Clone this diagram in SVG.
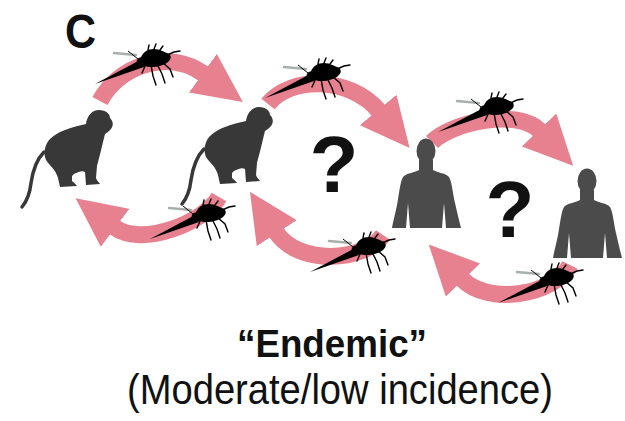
<svg xmlns="http://www.w3.org/2000/svg" width="625" height="421" viewBox="0 0 625 421">
  <style>
    .arrow { fill: none; stroke: #e8818f; stroke-width: 17; marker-end: url(#head); }
    .monkey { fill: #383838; }
    .tail { fill: none; stroke: #383838; stroke-width: 3.5; stroke-linecap: round; }
    .human { fill: #4b4b4b; }
    .label { font-family: "Liberation Sans", Arial, sans-serif; fill: #111; }
    .q { font-size: 80px; font-weight: bold; text-anchor: middle; }
  </style>
  <defs>
    <marker id="head" viewBox="0 -1.4 2.9 2.8" refX="0.08" refY="0" markerWidth="2.9" markerHeight="2.8" orient="auto" markerUnits="strokeWidth">
      <path d="M0,-1.4 L2.9,0 L0,1.4 Z" fill="#e8818f"/>
    </marker>

    <!-- mosquito in side view, thorax at the origin, proboscis to lower left -->
    <g id="mosquito">
      <path d="M-14,-3 L-36,-5" stroke="#a8b0ac" stroke-width="2.5" stroke-linecap="round"/>
      <path d="M-8,1 L-55,26 L-6,9 Z" fill="#000"/>
      <path d="M-12,1 L-22,-7" stroke="#000" stroke-width="1"/>
      <circle cx="-9" cy="4" r="4.5" fill="#000"/>
      <path d="M-10,2 C-8,-6 -2,-9 4,-9 C10,-9 14,-6 17,-5 C21,-4 22,0 19,3 C15,7 8,9 1,9 C-5,9 -10,7 -10,2 Z" fill="#000"/>
      <g fill="none" stroke="#000" stroke-width="1.4" stroke-linecap="round">
        <path d="M-2,-8 L-1,-13"/>
        <path d="M4,-9 L6,-14"/>
        <path d="M10,-8 L13,-12"/>
        <path d="M1,7 L3,18 L6,27"/>
        <path d="M7,6 L12,16 L15,25"/>
        <path d="M12,4 L20,11 L23,19"/>
        <path d="M15,-2 L24,-6 L30,-7"/>
        <path d="M-4,6 L-8,15"/>
      </g>
    </g>

    <!-- monkey silhouette facing right -->
    <g id="monkey-shape">
      <path class="tail" d="M44,152 C36,160 33,170 31,183 C30,192 27,201 22,207"/>
      <path class="monkey" d="M99,110 C106,110 110,114 110,118 C113,121 114,125 111,129 C109,131 107,133 105,134 C103,142 100,155 97,166 L96,178 C97,181 99,182 100,184 L86,185 L85,172 C82,170 78,172 74,174 L72,176 L72,181 C74,183 76,184 77,186 L60,187 L58,178 C56,170 50,166 46,160 C43,153 45,144 50,139 C58,131 72,127 86,124 C87,116 92,110 99,110 Z"/>
    </g>

    <!-- human bust silhouette -->
    <g id="human-shape">
      <ellipse class="human" cx="426" cy="151" rx="9.5" ry="12.5"/>
      <path class="human" d="M419,160 L419,170 C414,173 406,173 403,177 C400,182 399,195 397,205 C395,215 393,222 392,228 L406,228 L408,203 L410,228 L442,228 L444,203 L446,228 L461,228 C459,220 457,212 455,203 C453,195 452,182 449,177 C446,173 438,173 433,170 L433,160 Z"/>
    </g>
  </defs>

  <rect width="625" height="421" fill="#fff"/>

  <text class="label" x="65" y="48" font-size="48" font-weight="bold" textLength="31" lengthAdjust="spacingAndGlyphs">C</text>

  <!-- transmission arrows -->
  <g id="connectors">
    <path class="arrow" d="M100,101 C118,66 168,48 204,74"/>
    <path class="arrow" d="M219,197 C205,222 142,248 114,227"/>
    <path class="arrow" d="M268,104 C290,76 350,76 379,111"/>
    <path class="arrow" d="M383,235 C365,262 298,266 276,232"/>
    <path class="arrow" d="M432,142 C452,122 518,108 540,131"/>
    <path class="arrow" d="M570,265 C555,295 488,306 462,279"/>
  </g>

  <!-- mosquito vectors riding on the arrows -->
  <g id="vectors">
    <use href="#mosquito" x="150" y="58"/>
    <use href="#mosquito" x="205" y="213"/>
    <use href="#mosquito" x="320" y="72"/>
    <use href="#mosquito" x="365" y="246"/>
    <use href="#mosquito" x="493" y="106"/>
    <use href="#mosquito" x="553" y="277"/>
  </g>

  <g id="monkey-1">
    <use href="#monkey-shape"/>
  </g>
  <g id="monkey-2">
    <use href="#monkey-shape" transform="translate(160,-3)"/>
  </g>
  <g id="human-1">
    <use href="#human-shape"/>
  </g>
  <g id="human-2">
    <use href="#human-shape" transform="translate(161,30)"/>
  </g>

  <text class="label q" x="334" y="192">?</text>
  <text class="label q" x="510" y="237">?</text>

  <g id="caption" class="label" text-anchor="middle">
    <text x="332" y="357" font-size="39" font-weight="bold" textLength="190" lengthAdjust="spacingAndGlyphs">“Endemic”</text>
    <text x="340" y="404" font-size="42" textLength="426" lengthAdjust="spacingAndGlyphs">(Moderate/low incidence)</text>
  </g>
</svg>
